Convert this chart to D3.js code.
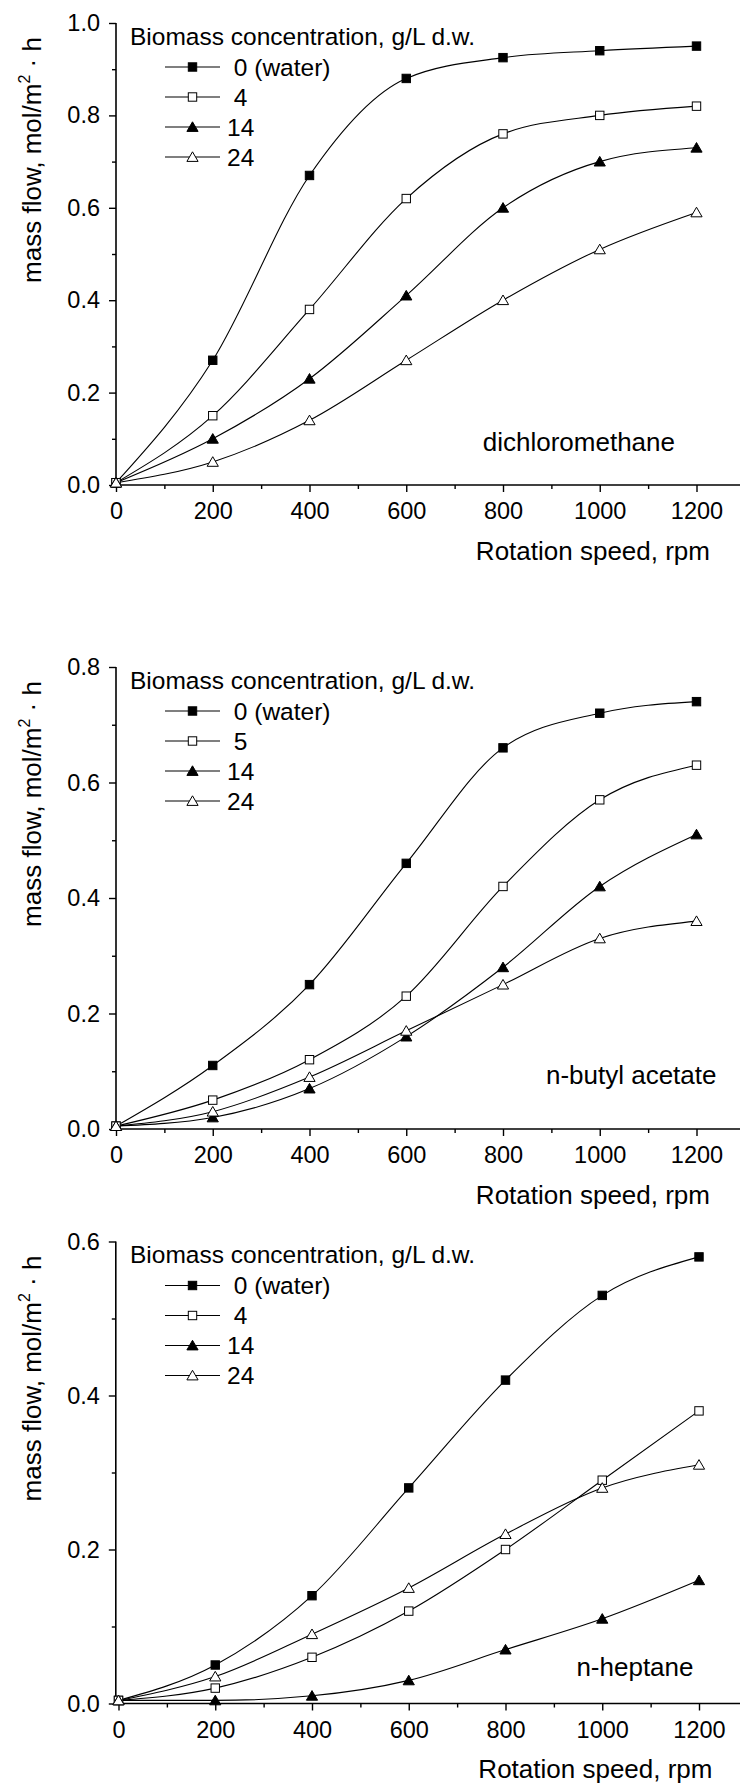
<!DOCTYPE html>
<html>
<head>
<meta charset="utf-8">
<script src="https://cdn.jsdelivr.net/npm/d3@7"></script>
<style>
body { margin: 0; background: #fff; }
svg text { font-family: "Liberation Sans", Arial, sans-serif; fill: #000; }
</style>
</head>
<body>
<div id="chart"></div>
<script>
// DATA
const speeds = [0, 200, 400, 600, 800, 1000, 1200]
const xTicks = [0, 200, 400, 600, 800, 1000, 1200]
const xMinor = [100, 300, 500, 700, 900, 1100, 1300]

const solvents = ["dichloromethane", "n-butyl acetate", "n-heptane"]
const legendTitle = "Biomass concentration, g/L d.w."
const legendLabels = [
    [" 0 (water)", " 4", "14", "24"],
    [" 0 (water)", " 5", "14", "24"],
    [" 0 (water)", " 4", "14", "24"]
]
const yTicks = [
    [0, 0.2, 0.4, 0.6, 0.8, 1.0],
    [0, 0.2, 0.4, 0.6, 0.8],
    [0, 0.2, 0.4, 0.6]
]
const yMinor = [
    [0.1, 0.3, 0.5, 0.7, 0.9],
    [0.1, 0.3, 0.5, 0.7],
    [0.1, 0.3, 0.5]
]

// dichloromethane
const dcmWater = [0.005, 0.27, 0.67, 0.88, 0.925, 0.94, 0.95]
const dcm4     = [0.005, 0.15, 0.38, 0.62, 0.76, 0.80, 0.82]
const dcm14    = [0.005, 0.10, 0.23, 0.41, 0.60, 0.70, 0.73]
const dcm24    = [0.005, 0.05, 0.14, 0.27, 0.40, 0.51, 0.59]
// n-butyl acetate
const nbaWater = [0.005, 0.11, 0.25, 0.46, 0.66, 0.72, 0.74]
const nba5     = [0.005, 0.05, 0.12, 0.23, 0.42, 0.57, 0.63]
const nba14    = [0.005, 0.02, 0.07, 0.16, 0.28, 0.42, 0.51]
const nba24    = [0.005, 0.03, 0.09, 0.17, 0.25, 0.33, 0.36]
// n-heptane
const hepWater = [0.004, 0.05, 0.14, 0.28, 0.42, 0.53, 0.58]
const hep4     = [0.004, 0.02, 0.06, 0.12, 0.20, 0.29, 0.38]
const hep14    = [0.004, 0.004, 0.01, 0.03, 0.07, 0.11, 0.16]
const hep24    = [0.004, 0.035, 0.09, 0.15, 0.22, 0.28, 0.31]

const series = [
    [dcmWater, dcm4, dcm14, dcm24],
    [nbaWater, nba5, nba14, nba24],
    [hepWater, hep4, hep14, hep24]
]

// LAYOUT
const W = 740, H = 1785
const plotH = 462
const pxPerRpm = 96.75 / 200
const panels = [
    { top: 23,     axisX: 116,   x0: 116,   labelX: 675,   labelDy: 34.5 },
    { top: 667,    axisX: 116,   x0: 116,   labelX: 716.5, labelDy: 45.5 },
    { top: 1241.5, axisX: 115.8, x0: 118.5, labelX: 693.5, labelDy: 27.5 }
]
// marker type per series: square filled, square open, triangle filled, triangle open
const markerShape = ["square", "square", "triangle", "triangle"]
const markerFill = ["#000", "#fff", "#000", "#fff"]

const svg = d3.select("#chart")
    .append("svg")
    .attr("width", W)
    .attr("height", H)

function marker(g, shape, fill) {
    if (shape === "square") {
        g.append("rect")
            .attr("x", -4.2).attr("y", -4.2)
            .attr("width", 8.4).attr("height", 8.4)
            .attr("fill", fill)
            .attr("stroke", "#000")
            .attr("stroke-width", 1)
    } else {
        g.append("path")
            .attr("d", "M0,-5.2L5.6,4.4L-5.6,4.4Z")
            .attr("fill", fill)
            .attr("stroke", "#000")
            .attr("stroke-width", 1)
    }
}

panels.forEach((p, i) => {
    const bottom = p.top + plotH
    const yMax = yTicks[i][yTicks[i].length - 1]

    // SCALES
    const x = d3.scaleLinear()
        .domain([0, 1300])
        .range([p.x0, p.x0 + 1300 * pxPerRpm])
    const y = d3.scaleLinear()
        .domain([0, yMax])
        .range([bottom, p.top])

    const g = svg.append("g")

    // X AXIS
    const xg = g.append("g")
        .attr("transform", `translate(0, ${bottom})`)
        .call(d3.axisBottom(x)
            .tickValues(xTicks)
            .tickSize(7)
            .tickSizeOuter(0)
            .tickPadding(10.8)
            .tickFormat(d3.format("d")))
    xg.select(".domain").remove()
    xg.selectAll("text").attr("font-size", 23.5)
    const xm = g.append("g")
        .attr("transform", `translate(0, ${bottom})`)
        .call(d3.axisBottom(x).tickValues(xMinor).tickSize(4).tickFormat(""))
    xm.select(".domain").remove()
    g.append("line")
        .attr("x1", p.axisX - 1).attr("x2", W)
        .attr("y1", bottom).attr("y2", bottom)
        .attr("stroke", "#000").attr("stroke-width", 1.6)

    // Y AXIS
    const yg = g.append("g")
        .attr("transform", `translate(${p.axisX}, 0)`)
        .call(d3.axisLeft(y)
            .tickValues(yTicks[i])
            .tickSize(7)
            .tickSizeOuter(0)
            .tickPadding(9)
            .tickFormat(d3.format(".1f")))
    yg.select(".domain").remove()
    yg.selectAll("text").attr("font-size", 23.5)
    const ym = g.append("g")
        .attr("transform", `translate(${p.axisX}, 0)`)
        .call(d3.axisLeft(y).tickValues(yMinor[i]).tickSize(4).tickFormat(""))
    ym.select(".domain").remove()
    g.append("line")
        .attr("x1", p.axisX).attr("x2", p.axisX)
        .attr("y1", p.top).attr("y2", bottom + 0.8)
        .attr("stroke", "#000").attr("stroke-width", 1.6)
    g.selectAll(".tick line").attr("stroke-width", 1.4)

    // AXIS TITLES
    g.append("text")
        .attr("x", p.x0 + 594)
        .attr("y", bottom + 74.5)
        .attr("text-anchor", "end")
        .attr("font-size", 26)
        .text("Rotation speed, rpm")

    const yt = g.append("text")
        .attr("transform", `translate(41, ${p.top + 137}) rotate(-90)`)
        .attr("text-anchor", "middle")
        .attr("font-size", 26)
    yt.append("tspan").text("mass flow, mol/m")
    yt.append("tspan").attr("font-size", 16).attr("dy", -11).text("2")
    yt.append("tspan").attr("dy", 11).text(" \u00B7 h")

    // LINES
    const line = d3.line()
        .x((d, k) => x(speeds[k]))
        .y(d => y(d))
        .curve(d3.curveMonotoneX)

    series[i].forEach(s => {
        g.append("path")
            .attr("d", line(s))
            .attr("fill", "none")
            .attr("stroke", "#000")
            .attr("stroke-width", 1.1)
    })

    // MARKERS
    series[i].forEach((s, j) => {
        s.forEach((v, k) => {
            const m = g.append("g")
                .attr("transform", `translate(${x(speeds[k])}, ${y(v)})`)
            marker(m, markerShape[j], markerFill[j])
        })
    })

    // LEGEND
    g.append("text")
        .attr("x", 130)
        .attr("y", p.top + 21.5)
        .attr("font-size", 24.5)
        .text(legendTitle)

    legendLabels[i].forEach((lab, j) => {
        const cy = p.top + 44 + j * 30
        g.append("line")
            .attr("x1", 165).attr("x2", 220)
            .attr("y1", cy).attr("y2", cy)
            .attr("stroke", "#000").attr("stroke-width", 1.1)
        const m = g.append("g").attr("transform", `translate(192.5, ${cy})`)
        marker(m, markerShape[j], markerFill[j])
        g.append("text")
            .attr("x", 227)
            .attr("y", cy + 8.5)
            .attr("font-size", 24.5)
            .attr("xml:space", "preserve")
            .style("white-space", "pre")
            .text(lab)
    })

    // SOLVENT LABEL
    g.append("text")
        .attr("x", p.labelX)
        .attr("y", bottom - p.labelDy)
        .attr("text-anchor", "end")
        .attr("font-size", 26)
        .text(solvents[i])
})
</script>
</body>
</html>
